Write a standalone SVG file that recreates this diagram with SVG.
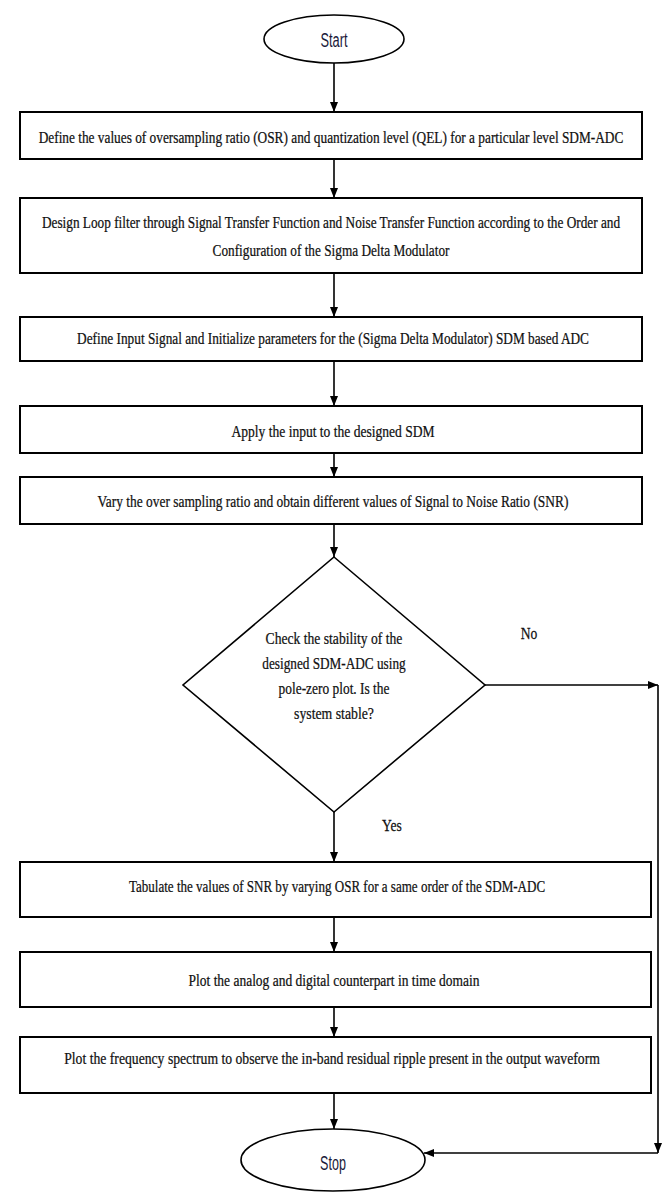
<svg xmlns="http://www.w3.org/2000/svg" width="669" height="1195" viewBox="0 0 669 1195">
<defs>
<marker id="arr" viewBox="0 0 10 10" refX="10" refY="5" markerWidth="10" markerHeight="10" markerUnits="userSpaceOnUse" orient="auto">
<path d="M0,1 L10,5 L0,9 Z" fill="#000"/>
</marker>
<style>
.box{fill:#fff;stroke:#000;stroke-width:2}
.sh{fill:#fff;stroke:#000;stroke-width:1.6}
.t{font-family:"Liberation Serif","Times New Roman",serif;font-size:17px;fill:#111;stroke:#111;stroke-width:0.25;text-anchor:middle;dominant-baseline:central}
.s{font-family:"Liberation Sans",Arial,sans-serif;font-size:20px;fill:#1a1a3a;text-anchor:middle;dominant-baseline:central}
.c{fill:none;stroke:#000;stroke-width:1.6}
</style>
</defs>
<rect width="669" height="1195" fill="#fff"/>
<g id="connectors">
<line class="c" x1="334" y1="63" x2="334" y2="112" marker-end="url(#arr)"/>
<line class="c" x1="334" y1="159" x2="334" y2="198" marker-end="url(#arr)"/>
<line class="c" x1="334" y1="273" x2="334" y2="317" marker-end="url(#arr)"/>
<line class="c" x1="334" y1="361" x2="334" y2="406" marker-end="url(#arr)"/>
<line class="c" x1="334" y1="453" x2="334" y2="477" marker-end="url(#arr)"/>
<line class="c" x1="334" y1="524" x2="334" y2="557" marker-end="url(#arr)"/>
<line class="c" x1="334" y1="812" x2="334" y2="862" marker-end="url(#arr)"/>
<line class="c" x1="334" y1="917" x2="334" y2="952" marker-end="url(#arr)"/>
<line class="c" x1="334" y1="1007" x2="334" y2="1037" marker-end="url(#arr)"/>
<line class="c" x1="334" y1="1093" x2="334" y2="1129" marker-end="url(#arr)"/>
<line class="c" x1="485" y1="685" x2="658" y2="685" marker-end="url(#arr)"/>
<line class="c" x1="658" y1="685" x2="658" y2="1153" marker-end="url(#arr)"/>
<line class="c" x1="658" y1="1153" x2="424" y2="1153" marker-end="url(#arr)"/>
<text class="t" transform="translate(529,633) scale(0.8,1)">No</text>
<text class="t" transform="translate(392,825) scale(0.8,1)">Yes</text>
</g>
<g id="start">
<ellipse class="sh" cx="334" cy="39" rx="70" ry="24"/>
<text class="s" transform="translate(334,40) scale(0.6,1)" textLength="45" lengthAdjust="spacingAndGlyphs">Start</text>
</g>
<g id="box1">
<rect class="box" x="20" y="112" width="622" height="47"/>
<text class="t" transform="translate(331,137) scale(0.72,1)" textLength="812" lengthAdjust="spacingAndGlyphs">Define the values of oversampling ratio (OSR) and quantization level (QEL) for a particular level SDM-ADC</text>
</g>
<g id="box2">
<rect class="box" x="20" y="198" width="622" height="75"/>
<text class="t" transform="translate(331,222) scale(0.72,1)" textLength="803" lengthAdjust="spacingAndGlyphs">Design Loop filter through Signal Transfer Function and Noise Transfer Function according to the Order and</text>
<text class="t" transform="translate(331,250) scale(0.72,1)" textLength="329" lengthAdjust="spacingAndGlyphs">Configuration of the Sigma Delta Modulator</text>
</g>
<g id="box3">
<rect class="box" x="20" y="317" width="622" height="44"/>
<text class="t" transform="translate(333,338) scale(0.72,1)" textLength="711" lengthAdjust="spacingAndGlyphs">Define Input Signal and Initialize parameters for the (Sigma Delta Modulator) SDM based ADC</text>
</g>
<g id="box4">
<rect class="box" x="20" y="406" width="622" height="47"/>
<text class="t" transform="translate(333,431) scale(0.72,1)" textLength="282" lengthAdjust="spacingAndGlyphs">Apply the input to the designed SDM</text>
</g>
<g id="box5">
<rect class="box" x="20" y="477" width="622" height="47"/>
<text class="t" transform="translate(333,501) scale(0.72,1)" textLength="654" lengthAdjust="spacingAndGlyphs">Vary the over sampling ratio and obtain different values of Signal to Noise Ratio (SNR)</text>
</g>
<g id="decision">
<polygon class="sh" points="334,557 485,685 334,812 183,685"/>
<text class="t" transform="translate(334,638) scale(0.72,1)" textLength="190" lengthAdjust="spacingAndGlyphs">Check the stability of the</text>
<text class="t" transform="translate(334,663) scale(0.72,1)" textLength="199" lengthAdjust="spacingAndGlyphs">designed SDM-ADC using</text>
<text class="t" transform="translate(334,688) scale(0.72,1)" textLength="154" lengthAdjust="spacingAndGlyphs">pole-zero plot. Is the</text>
<text class="t" transform="translate(334,713) scale(0.72,1)" textLength="111" lengthAdjust="spacingAndGlyphs">system stable?</text>
</g>
<g id="box6">
<rect class="box" x="20" y="862" width="631" height="55"/>
<text class="t" transform="translate(337,886) scale(0.72,1)" textLength="578" lengthAdjust="spacingAndGlyphs">Tabulate the values of SNR by varying OSR for a same order of the SDM-ADC</text>
</g>
<g id="box7">
<rect class="box" x="20" y="952" width="631" height="55"/>
<text class="t" transform="translate(334,980) scale(0.72,1)" textLength="404" lengthAdjust="spacingAndGlyphs">Plot the analog and digital counterpart in time domain</text>
</g>
<g id="box8">
<rect class="box" x="20" y="1037" width="631" height="56"/>
<text class="t" transform="translate(332,1058) scale(0.72,1)" textLength="744" lengthAdjust="spacingAndGlyphs">Plot the frequency spectrum to observe the in-band residual ripple present in the output waveform</text>
</g>
<g id="stop">
<ellipse class="sh" cx="333" cy="1160" rx="92" ry="31"/>
<text class="s" transform="translate(333,1163) scale(0.6,1)" textLength="43" lengthAdjust="spacingAndGlyphs">Stop</text>
</g>
</svg>
